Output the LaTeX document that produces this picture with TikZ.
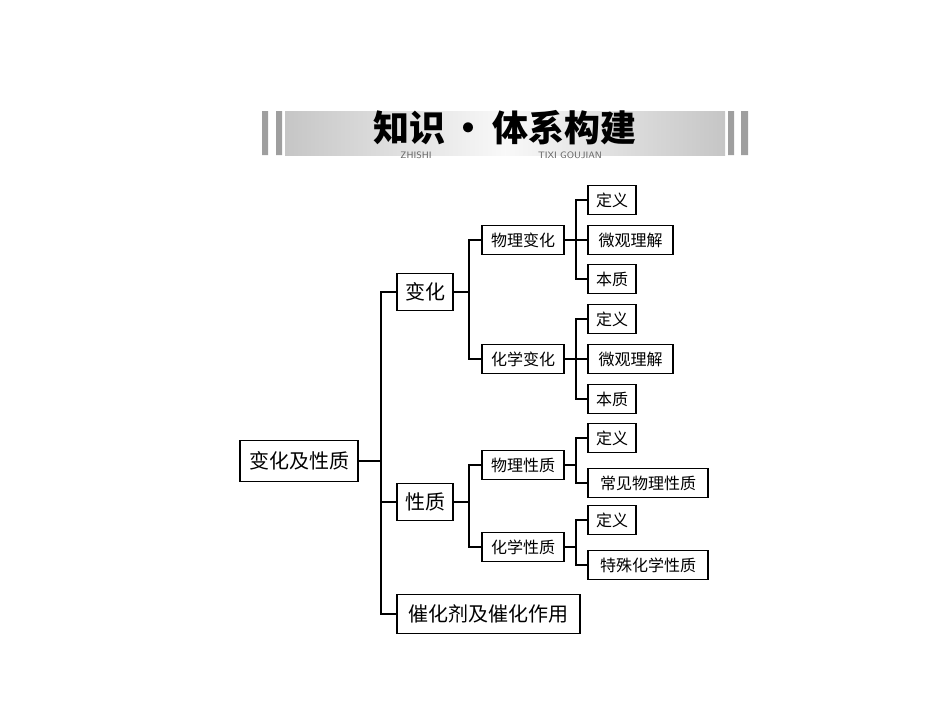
\documentclass[tikz,border=0pt]{standalone}
\usepackage{fontspec}
\newfontfamily\cjk{Noto Sans CJK SC}
\begin{document}
\begin{tikzpicture}[x=0.75pt,y=-0.75pt,
  bx/.style={draw,line width=1.3pt,inner sep=0pt,font=\cjk\fontsize{12}{12}\selectfont,anchor=center},
  ln/.style={line width=1.1pt}]
\useasboundingbox (0,0) rectangle (950,722);
% header
\shade[left color=gray!45,right color=gray!5] (285,111) rectangle (505,155);
\shade[left color=gray!5,right color=gray!45] (505,111) rectangle (725,155);
\fill[gray!75] (262,111) rectangle (268,155) (276,111) rectangle (282,155) (728,111) rectangle (734,155) (741,111) rectangle (748,155);
\node (title) at (505,128) {\cjk\bfseries\fontsize{27}{27}\selectfont 知识\,·\,体系构建};
\node[text=gray!80!black,font=\sffamily\fontsize{7}{7}\selectfont] (zs) at (416,155) {ZHISHI};
\node[text=gray!80!black,font=\sffamily\fontsize{7}{7}\selectfont] (tg) at (570,155) {TIXI GOUJIAN};
% nodes
\node[bx,minimum width=118*0.75pt,minimum height=41*0.75pt,font=\cjk\fontsize{15}{15}\selectfont] (root) at (299,461) {变化及性质};
\node[bx,minimum width=56*0.75pt,minimum height=37*0.75pt,font=\cjk\fontsize{15}{15}\selectfont] (bh) at (425,292) {变化};
\node[bx,minimum width=56*0.75pt,minimum height=37*0.75pt,font=\cjk\fontsize{15}{15}\selectfont] (xz) at (425,502) {性质};
\node[bx,minimum width=183*0.75pt,minimum height=39*0.75pt,font=\cjk\fontsize{15}{15}\selectfont] (ch) at (488.5,614) {催化剂及催化作用};
\tikzset{mid/.style={bx,minimum width=82*0.75pt,minimum height=29*0.75pt},
  s2/.style={bx,minimum width=48*0.75pt,minimum height=29*0.75pt},
  s4/.style={bx,minimum width=85*0.75pt,minimum height=29*0.75pt},
  s6/.style={bx,minimum width=120*0.75pt,minimum height=29*0.75pt}}
\node[mid] (wlbh) at (523,240) {物理变化};
\node[mid] (hxbh) at (523,359) {化学变化};
\node[mid] (wlxz) at (523,465) {物理性质};
\node[mid] (hxxz) at (523,547) {化学性质};
\node[s2] (a1) at (612,200) {定义};
\node[s4] (a2) at (630.5,240) {微观理解};
\node[s2] (a3) at (612,279) {本质};
\node[s2] (b1) at (612,319) {定义};
\node[s4] (b2) at (630.5,359) {微观理解};
\node[s2] (b3) at (612,399) {本质};
\node[s2] (c1) at (612,438) {定义};
\node[s6] (c2) at (648,483) {常见物理性质};
\node[s2] (d1) at (612,520) {定义};
\node[s6] (d2) at (648,565) {特殊化学性质};
% connectors
\draw[ln] (root.east) -- (381,461);
\draw[ln] (bh.west) -| (381,461) |- (ch.west);
\draw[ln] (xz.west) -- (381,502);
\draw[ln] (bh.east) -- (469,292);
\draw[ln] (wlbh.west) -| (469,292) |- (hxbh.west);
\draw[ln] (xz.east) -- (469,502);
\draw[ln] (wlxz.west) -| (469,502) |- (hxxz.west);
\draw[ln] (wlbh.east) -- (a2.west);
\draw[ln] (a1.west) -| (576,240) |- (a3.west);
\draw[ln] (hxbh.east) -- (b2.west);
\draw[ln] (b1.west) -| (576,359) |- (b3.west);
\draw[ln] (wlxz.east) -- (576,465);
\draw[ln] (c1.west) -| (576,465) |- (c2.west);
\draw[ln] (hxxz.east) -- (576,547);
\draw[ln] (d1.west) -| (576,547) |- (d2.west);
\end{tikzpicture}
\end{document}
